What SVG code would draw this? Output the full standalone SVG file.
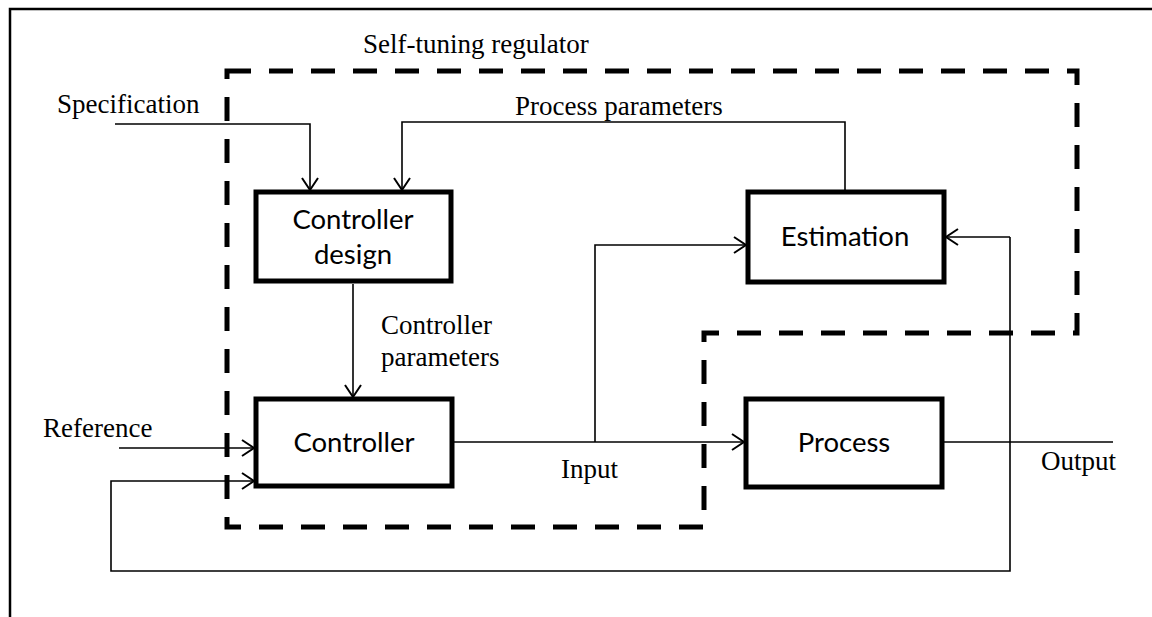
<svg xmlns="http://www.w3.org/2000/svg" width="1152" height="617" viewBox="0 0 1152 617">
<style>
.frame{fill:none;stroke:#000;stroke-width:2.5}
.box{fill:#fff;stroke:#000;stroke-width:5}
.dash{fill:none;stroke:#000;stroke-width:5;stroke-dasharray:24 18}
.wire{fill:none;stroke:#000;stroke-width:1.6}
.sans{font-family:Lato,"Open Sans",sans-serif;font-size:27.5px;fill:#000;text-anchor:middle}
.serif{font-family:"Liberation Serif","Times New Roman",serif;font-size:27px;fill:#000}
</style>
<defs>
<marker id="arr" markerUnits="userSpaceOnUse" markerWidth="20" markerHeight="20" viewBox="-14 -10 16 20" refX="0" refY="0" orient="auto">
<path d="M-12,-8 L0,0 L-12,8" fill="none" stroke="#000" stroke-width="2"/>
</marker>
</defs>
<rect width="1152" height="617" fill="#fff"/>
<path class="frame" d="M10,617 L10,9 L1152,9"/>
<g id="regulator">
<path class="dash" d="M227,71 L1077,71 L1077,333 L704,333 L704,527 L227,527 Z"/>
<text class="serif" x="363" y="53">Self-tuning regulator</text>
</g>
<g id="connectors">
<path class="wire" d="M115,124 L310,124 L310,190" marker-end="url(#arr)"/>
<path class="wire" d="M845,190 L845,122 L402,122 L402,190" marker-end="url(#arr)"/>
<path class="wire" d="M353,284 L353,397" marker-end="url(#arr)"/>
<path class="wire" d="M119,448 L254,448" marker-end="url(#arr)"/>
<path class="wire" d="M1010,237 L1010,571 L111,571 L111,481 L254,481" marker-end="url(#arr)"/>
<path class="wire" d="M1010,237 L946,237" marker-end="url(#arr)"/>
<path class="wire" d="M454,442 L744,442" marker-end="url(#arr)"/>
<path class="wire" d="M595,442 L595,245 L746,245" marker-end="url(#arr)"/>
<path class="wire" d="M944,442 L1113,442"/>
<text class="serif" x="57" y="113">Specification</text>
<text class="serif" x="515" y="115">Process parameters</text>
<text class="serif" x="381" y="334">Controller</text>
<text class="serif" x="381" y="366">parameters</text>
<text class="serif" x="43" y="437">Reference</text>
<text class="serif" x="561" y="478">Input</text>
<text class="serif" x="1041" y="470">Output</text>
</g>
<g id="controller-design">
<rect class="box" x="256" y="192" width="195" height="89"/>
<text class="sans" x="353" y="229">Controller</text>
<text class="sans" x="353" y="264">design</text>
</g>
<g id="controller">
<rect class="box" x="256" y="399" width="196" height="87"/>
<text class="sans" x="354" y="452">Controller</text>
</g>
<g id="estimation">
<rect class="box" x="748" y="192" width="196" height="90"/>
<text class="sans" x="845" y="246">Estimation</text>
</g>
<g id="process">
<rect class="box" x="746" y="399" width="196" height="88"/>
<text class="sans" x="844" y="452">Process</text>
</g>
</svg>
